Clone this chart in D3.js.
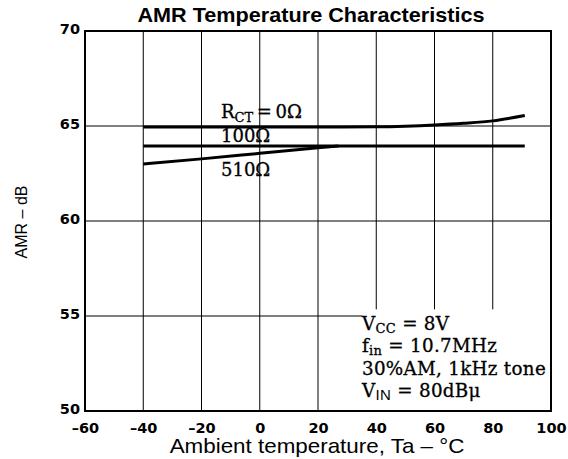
<!DOCTYPE html>
<html>
<head>
<meta charset="utf-8">
<script src="https://cdn.jsdelivr.net/npm/d3@7/dist/d3.min.js"></script>
<style>
  html, body { margin: 0; padding: 0; background: #fff; }
  svg { display: block; }
</style>
</head>
<body>
<svg id="chart" width="568" height="459"></svg>
<script>
// Axis ticks
const xTicks = [-60, -40, -20, 0, 20, 40, 60, 80, 100];
const yTicks = [50, 55, 60, 65, 70];

// AMR (dB) versus ambient temperature (°C) for each R_CT value
const temp0 = [-40, -20, 0, 20, 40, 50, 60, 70, 80, 91];
const amr0  = [64.95, 64.95, 64.95, 64.95, 64.96, 64.99, 65.05, 65.14, 65.27, 65.55];

const temp100 = [-40, 0, 40, 91];
const amr100  = [63.95, 63.95, 63.95, 63.95];

const temp510 = [-40, -20, 0, 20, 27];
const amr510  = [63.0, 63.27, 63.56, 63.85, 63.95];

// Test conditions
const conditions = [
  { main: "V", sub: "CC", rest: " = 8V" },
  { main: "f", sub: "in", rest: " = 10.7MHz" },
  { main: "30%AM, 1kHz tone", sub: "", rest: "" },
  { main: "V", sub: "IN", rest: " = 80dB\u03bc", subSans: true }
];

const svg = d3.select("#chart");
const margin = { left: 85, right: 17, top: 31, bottom: 48 };
const W = 568, H = 459;
const x = d3.scaleLinear().domain([-60, 100]).range([margin.left, W - margin.right]);
const y = d3.scaleLinear().domain([50, 70]).range([H - margin.bottom, margin.top]);

const sans = "'Liberation Sans', Arial, sans-serif";
const tickFont = "'DejaVu Sans', sans-serif";
const serif = "'DejaVu Serif', 'Liberation Serif', serif";

// Grid
const grid = svg.append("g").attr("stroke", "#000").attr("stroke-width", 1);
grid.selectAll("line.v").data(xTicks.slice(1, -1)).join("line")
  .attr("x1", d => x(d)).attr("x2", d => x(d))
  .attr("y1", y(70)).attr("y2", y(50));
grid.selectAll("line.h").data(yTicks.slice(1, -1)).join("line")
  .attr("y1", d => y(d)).attr("y2", d => y(d))
  .attr("x1", x(-60)).attr("x2", x(100));

// White panel behind the test conditions
svg.append("rect")
  .attr("x", x(35.2)).attr("y", y(55.35))
  .attr("width", x(100) - x(35.2)).attr("height", y(50) - y(55.35))
  .attr("fill", "#fff");

// Frame
svg.append("rect")
  .attr("x", x(-60)).attr("y", y(70))
  .attr("width", x(100) - x(-60)).attr("height", y(50) - y(70))
  .attr("fill", "none").attr("stroke", "#000").attr("stroke-width", 2);

// Axes (labels only, the grid carries the ticks)
const xAxis = d3.axisBottom(x).tickValues(xTicks).tickSize(0).tickPadding(12)
  .tickFormat(d => d < 0 ? "\u2013" + Math.abs(d) : String(d));
svg.append("g").attr("transform", `translate(0,${y(50)})`).call(xAxis)
  .call(g => g.select(".domain").remove())
  .selectAll("text").attr("font-family", tickFont).attr("font-weight", "bold")
  .attr("font-size", 14.5).attr("fill", "#000");

const yAxis = d3.axisLeft(y).tickValues(yTicks).tickSize(0).tickPadding(5);
svg.append("g").attr("transform", `translate(${x(-60)},0)`).call(yAxis)
  .call(g => g.select(".domain").remove())
  .selectAll("text").attr("font-family", tickFont).attr("font-weight", "bold")
  .attr("font-size", 14.5).attr("fill", "#000").attr("dy", "0.15em");

// Curves
const line = d3.line().x(d => x(d[0])).y(d => y(d[1])).curve(d3.curveMonotoneX);
const series = [
  d3.zip(temp0, amr0),
  d3.zip(temp100, amr100),
  d3.zip(temp510, amr510)
];
svg.append("g").selectAll("path").data(series).join("path")
  .attr("d", line).attr("fill", "none").attr("stroke", "#000")
  .attr("stroke-width", 3).attr("stroke-linecap", "butt");

// Curve labels
const lbl = svg.append("g").attr("font-family", serif).attr("font-size", 18)
  .attr("fill", "#000").attr("stroke", "#000").attr("stroke-width", 0.3);
const r0 = lbl.append("text").attr("x", 221).attr("y", 117.5);
r0.append("tspan").text("R");
r0.append("tspan").attr("font-size", 13).attr("dy", 4).text("CT");
r0.append("tspan").attr("dy", -4).text("\u2009=\u20090\u03a9");
lbl.append("text").attr("x", 221).attr("y", 142).text("100\u03a9");
lbl.append("text").attr("x", 221).attr("y", 176).text("510\u03a9");

// Test conditions text
const cond = svg.append("g").attr("font-family", serif).attr("font-size", 18.3)
  .attr("letter-spacing", 0.3)
  .attr("fill", "#000").attr("stroke", "#000").attr("stroke-width", 0.3);
conditions.forEach((c, i) => {
  const t = cond.append("text").attr("x", 362).attr("y", 330 + i * 22.3);
  t.append("tspan").text(c.main);
  if (c.sub) {
    t.append("tspan").attr("font-size", c.subSans ? 15 : 13).attr("dy", 3)
      .attr("font-family", c.subSans ? sans : serif)
      .attr("stroke-width", c.subSans ? 0 : 0.3)
      .text(c.sub);
    t.append("tspan").attr("dy", -3).text(c.rest);
  }
});

// Title and axis titles
svg.append("text").attr("transform", "translate(311,22) scale(1.11,1)")
  .attr("text-anchor", "middle")
  .attr("font-family", sans).attr("font-weight", "bold").attr("font-size", 19.5)
  .text("AMR Temperature Characteristics");

svg.append("text").attr("transform", "translate(317,453) scale(1.12,1)")
  .attr("text-anchor", "middle")
  .attr("font-family", sans).attr("font-size", 20)
  .text("Ambient temperature, Ta \u2013 \u00b0C");

svg.append("text").attr("transform", "translate(27,222) rotate(-90)")
  .attr("text-anchor", "middle")
  .attr("font-family", sans).attr("font-size", 16)
  .text("AMR \u2013 dB");
</script>
</body>
</html>
